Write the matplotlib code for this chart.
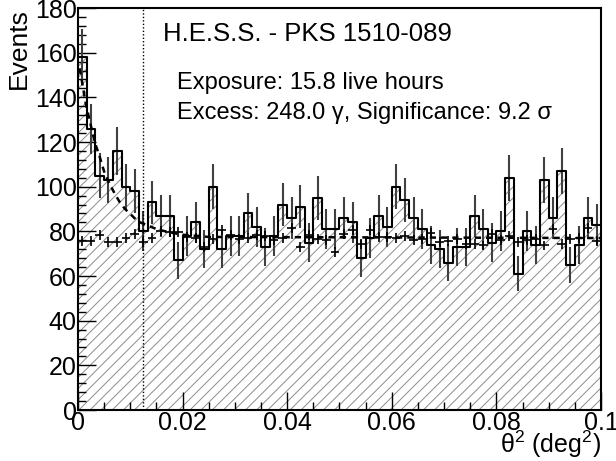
import numpy as np
import matplotlib.pyplot as plt

plt.rcParams['font.family'] = ['Liberation Sans', 'DejaVu Sans']
plt.rcParams['mathtext.fontset'] = 'custom'
plt.rcParams['mathtext.rm'] = 'Liberation Sans'
plt.rcParams['hatch.linewidth'] = 0.7

# theta^2 histogram, 60 bins from 0 to 0.1 deg^2
theta2_lo = 0.0
theta2_hi = 0.1
n_bins = 60

# ON counts (hatched histogram)
on_counts = [158, 126, 105, 103, 116, 100, 98, 80, 93, 87,
             87, 67, 78, 84, 72, 100, 72, 78, 78, 88,
             82, 73, 78, 92, 86, 91, 75, 95, 81, 81,
             86, 84, 68, 77, 87, 82, 100, 94, 86, 81,
             74, 72, 66, 73, 73, 87, 81, 75, 80, 104,
             61, 80, 74, 103, 86, 107, 65, 74, 86, 83]

# normalised OFF counts (crosses)
off_counts = [75.7, 75.7, 78.3, 75.2, 75.2, 77.0, 78.9, 75.4, 77.0, 80.0,
              79.7, 79.7, 77.4, 77.0, 73.0, 76.7, 80.5, 78.2, 76.4, 77.0,
              78.2, 77.9, 76.0, 77.0, 81.6, 73.0, 78.5, 76.7, 76.3, 70.7,
              78.8, 80.7, 74.5, 80.7, 77.4, 77.4, 77.2, 77.9, 76.0, 76.7,
              79.4, 75.2, 75.7, 76.7, 74.5, 74.5, 73.7, 78.9, 76.0, 77.9,
              75.2, 76.0, 76.7, 73.7, 81.2, 74.5, 76.4, 77.0, 81.5, 75.5]
off_err = 2.2

# dashed fit curve
fit_x = [0.0003, 0.0007, 0.0015, 0.0023, 0.0032, 0.0042, 0.0051, 0.0061, 0.0070,
         0.0080, 0.0090, 0.0099, 0.0110, 0.0119, 0.0135, 0.0150, 0.0176, 0.0200,
         0.0250, 0.1000]
fit_y = [153, 148, 137, 129, 120, 113, 106, 101, 97,
         93, 90, 88, 85.5, 84, 82.5, 81, 79.5, 78.5,
         77.5, 77]

cut = 0.0125

edges = np.linspace(theta2_lo, theta2_hi, n_bins + 1)
centers = 0.5 * (edges[:-1] + edges[1:])
bw = edges[1] - edges[0]
on = np.array(on_counts, dtype=float)
on_step = np.append(on, on[-1])

fig = plt.figure(figsize=(6.16, 4.61), dpi=100)
ax = fig.add_axes([0.1266, 0.1106, 0.849, 0.872])

ax.fill_between(edges, on_step, 0, step='post', facecolor='none',
                edgecolor='#8c8c8c', hatch='///', linewidth=0)
ax.errorbar(centers, on, yerr=np.sqrt(on), fmt='none', ecolor='#404040',
            elinewidth=1.5, capsize=0)
ax.step(edges, on_step, where='post', color='black', linewidth=1.5)
ax.errorbar(centers, off_counts, xerr=bw / 2, yerr=off_err, fmt='none',
            ecolor='black', elinewidth=1.2, capsize=0)
ax.plot(fit_x, fit_y, color='black', linestyle=(0, (2.5, 2)), linewidth=1.8)
ax.axvline(cut, color='black', linestyle=(0, (1, 1.5)), linewidth=1.0)

ax.set_xlim(theta2_lo, theta2_hi)
ax.set_ylim(0, 180)
ax.set_xticks([0, 0.02, 0.04, 0.06, 0.08, 0.1])
ax.set_xticklabels(['0', '0.02', '0.04', '0.06', '0.08', '0.1'])
ax.set_xticks(np.arange(0, 0.1001, 0.005), minor=True)
ax.set_yticks(np.arange(0, 181, 20))
ax.set_yticks(np.arange(0, 181, 4), minor=True)
ax.tick_params(which='both', direction='in', labelsize=18, width=1, top=False, right=False)
ax.tick_params(which='major', length=13, pad=1)
ax.tick_params(which='minor', length=6)
for s in ax.spines.values():
    s.set_linewidth(1.5)

ax.set_ylabel('Events', fontsize=19, loc='top')
ax.yaxis.set_label_coords(-0.09, 1.0)
ax.set_xlabel('θ$^{2}$ (deg$^{2}$)', fontsize=18, loc='right')
ax.xaxis.set_label_coords(1.0, -0.046)

ax.text(0.163, 0.935, 'H.E.S.S. - PKS 1510-089', transform=ax.transAxes,
        fontsize=18.5, va='center')
ax.text(0.19, 0.814, 'Exposure: 15.8 live hours', transform=ax.transAxes,
        fontsize=17, va='center')
ax.text(0.19, 0.739, 'Excess: 248.0 γ, Significance: 9.2 σ', transform=ax.transAxes,
        fontsize=17, va='center')

fig.savefig('out.png', dpi=100)
